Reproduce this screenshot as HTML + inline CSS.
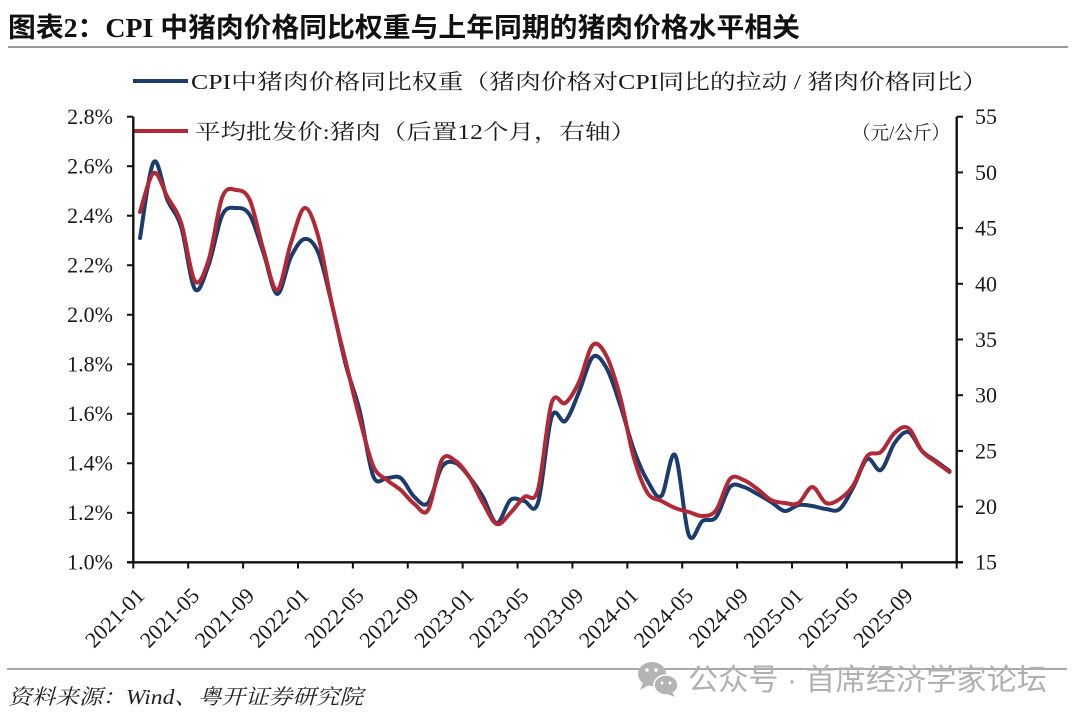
<!DOCTYPE html>
<html>
<head>
<meta charset="utf-8">
<style>
  html,body{margin:0;padding:0;background:#fff;}
  svg{display:block;}
  .ser{font-family:"Liberation Serif","Noto Serif CJK SC",serif;}
  .ttl{font-family:"Liberation Serif","Noto Sans CJK SC",sans-serif;font-weight:bold;}
  .wm{font-family:"Liberation Sans","Noto Sans CJK SC",sans-serif;}
</style>
</head>
<body>
<svg id="c" width="1080" height="717" viewBox="0 0 1080 717" xmlns="http://www.w3.org/2000/svg">
  <rect x="0" y="0" width="1080" height="717" fill="#ffffff"/>

  <!-- Title -->
  <text class="ttl" x="8" y="37" font-size="27" fill="#111" textLength="792" lengthAdjust="spacingAndGlyphs">图表2：CPI 中猪肉价格同比权重与上年同期的猪肉价格水平相关</text>
  <line x1="8" y1="47" x2="1068" y2="47" stroke="#9a9a9a" stroke-width="2"/>

  <!-- Legend -->
  <line x1="133" y1="81" x2="188" y2="81" stroke="#1c3c6e" stroke-width="4"/>
  <text class="ser" x="191" y="89" font-size="21" fill="#1a1a1a" textLength="797" lengthAdjust="spacingAndGlyphs">CPI中猪肉价格同比权重（猪肉价格对CPI同比的拉动 / 猪肉价格同比）</text>
  <line x1="133" y1="131" x2="188" y2="131" stroke="#b22834" stroke-width="4"/>
  <text class="ser" x="195" y="139" font-size="21" fill="#1a1a1a" textLength="441" lengthAdjust="spacingAndGlyphs">平均批发价:猪肉（后置12个月，右轴）</text>
  <text class="ser" x="852" y="139" font-size="19" fill="#1a1a1a" textLength="98" lengthAdjust="spacingAndGlyphs">（元/公斤）</text>

  <!-- Axes -->
  <g stroke="#111" stroke-width="2.4" fill="none">
    <line x1="133.3" y1="116.7" x2="133.3" y2="562.3"/>
    <line x1="956.7" y1="116.7" x2="956.7" y2="562.3"/>
    <line x1="127" y1="562.3" x2="963" y2="562.3"/>
  </g>
  <g id="ticks" stroke="#111" stroke-width="2"></g>

  <!-- Left labels -->
  <g class="ser" font-size="22" fill="#1a1a1a" text-anchor="end">
    <text x="113" y="124.2">2.8%</text>
    <text x="113" y="173.7">2.6%</text>
    <text x="113" y="223.2">2.4%</text>
    <text x="113" y="272.7">2.2%</text>
    <text x="113" y="322.2">2.0%</text>
    <text x="113" y="371.6">1.8%</text>
    <text x="113" y="421.1">1.6%</text>
    <text x="113" y="470.6">1.4%</text>
    <text x="113" y="520.1">1.2%</text>
    <text x="113" y="569.6">1.0%</text>
  </g>

  <!-- Right labels -->
  <g class="ser" font-size="22" fill="#1a1a1a" text-anchor="start">
    <text x="975" y="124.2">55</text>
    <text x="975" y="179.9">50</text>
    <text x="975" y="235.6">45</text>
    <text x="975" y="291.3">40</text>
    <text x="975" y="346.9">35</text>
    <text x="975" y="402.6">30</text>
    <text x="975" y="458.3">25</text>
    <text x="975" y="514.0">20</text>
    <text x="975" y="569.6">15</text>
  </g>

  <!-- X labels -->
  <g class="ser" font-size="22" fill="#1a1a1a" text-anchor="end">
    <text transform="translate(145.8,597) rotate(-45)">2021-01</text>
    <text transform="translate(200.7,597) rotate(-45)">2021-05</text>
    <text transform="translate(255.6,597) rotate(-45)">2021-09</text>
    <text transform="translate(310.4,597) rotate(-45)">2022-01</text>
    <text transform="translate(365.3,597) rotate(-45)">2022-05</text>
    <text transform="translate(420.2,597) rotate(-45)">2022-09</text>
    <text transform="translate(475.1,597) rotate(-45)">2023-01</text>
    <text transform="translate(530.0,597) rotate(-45)">2023-05</text>
    <text transform="translate(584.9,597) rotate(-45)">2023-09</text>
    <text transform="translate(639.7,597) rotate(-45)">2024-01</text>
    <text transform="translate(694.6,597) rotate(-45)">2024-05</text>
    <text transform="translate(749.5,597) rotate(-45)">2024-09</text>
    <text transform="translate(804.4,597) rotate(-45)">2025-01</text>
    <text transform="translate(859.3,597) rotate(-45)">2025-05</text>
    <text transform="translate(914.1,597) rotate(-45)">2025-09</text>
  </g>

  <!-- Series -->
  <path id="blue" d="" fill="none" stroke="#1c3c6e" stroke-width="4" stroke-linejoin="round" stroke-linecap="round"/>
  <path id="red" d="" fill="none" stroke="#b22834" stroke-width="4" stroke-linejoin="round" stroke-linecap="round"/>

  <!-- Bottom rule -->
  <line x1="7" y1="669" x2="1067" y2="669" stroke="#a8a8a8" stroke-width="2"/>

  <!-- Footer -->
  <text class="ser" x="8" y="704" font-size="21" font-style="italic" fill="#222" textLength="355" lengthAdjust="spacingAndGlyphs">资料来源：Wind、粤开证券研究院</text>

  <!-- Watermark -->
  <g fill="#b4b4b4">
    <ellipse cx="652" cy="674" rx="14" ry="12"/>
    <path d="M643 683 L640 690 L649 685 Z"/>
    <ellipse cx="666" cy="685" rx="12" ry="10" stroke="#fff" stroke-width="1.5"/>
    <path d="M672 692 L675 697 L667 694 Z"/>
    <circle cx="647" cy="670" r="1.8" fill="#fff"/>
    <circle cx="656" cy="670" r="1.8" fill="#fff"/>
    <circle cx="662" cy="683" r="1.5" fill="#fff"/>
    <circle cx="670" cy="683" r="1.5" fill="#fff"/>
  </g>
  <text class="wm" x="688" y="690" font-size="30" fill="#b0b0b0" textLength="359" lengthAdjust="spacingAndGlyphs">公众号 · 首席经济学家论坛</text>
</svg>
<script>
(function(){
  var blue=[238,162,200,227,289,265,215,208,215,253,
            294,257,239,253,305,365,410,476,478,478,
            497,503,467,463,477,497,523,500,501,503,
            417,421,392,357,368,405,450,481,496,455,
            535,521,517,487,487,494,502,511,505,506,
            509,509,487,459,470,443,432,451,461,471];
  var red=[212,173,197,223,281,260,197,190,200,250,
           290,243,208,237,305,362,418,466,480,490,
           504,510,460,461,477,503,524,513,497,490,
           403,403,382,345,356,397,458,493,501,508,
           512,516,510,479,480,489,500,503,503,487,
           503,499,485,456,452,433,428,451,462,472];
  function pts(arr){var p=[];for(var i=0;i<arr.length;i++){p.push([140+13.72*i,arr[i]]);}return p;}
  function smooth(p){
    var d="M"+p[0][0].toFixed(1)+","+p[0][1].toFixed(1);
    for(var i=0;i<p.length-1;i++){
      var p0=p[i-1]||p[i],p1=p[i],p2=p[i+1],p3=p[i+2]||p[i+1];
      var c1x=p1[0]+(p2[0]-p0[0])/6,c1y=p1[1]+(p2[1]-p0[1])/6;
      var c2x=p2[0]-(p3[0]-p1[0])/6,c2y=p2[1]-(p3[1]-p1[1])/6;
      d+=" C"+c1x.toFixed(1)+","+c1y.toFixed(1)+" "+c2x.toFixed(1)+","+c2y.toFixed(1)+" "+p2[0].toFixed(1)+","+p2[1].toFixed(1);
    }
    return d;
  }
  document.getElementById("blue").setAttribute("d",smooth(pts(blue)));
  document.getElementById("red").setAttribute("d",smooth(pts(red)));
  var g=document.getElementById("ticks"),ns="http://www.w3.org/2000/svg";
  function ln(x1,y1,x2,y2){var l=document.createElementNS(ns,"line");l.setAttribute("x1",x1);l.setAttribute("y1",y1);l.setAttribute("x2",x2);l.setAttribute("y2",y2);g.appendChild(l);}
  for(var k=0;k<10;k++){var y=116.7+k*(445.6/9);ln(127,y,133.3,y);}
  for(var k=0;k<9;k++){var y=116.7+k*(445.6/8);ln(956.7,y,963,y);}
  for(var k=0;k<=15;k++){var x=133.3+k*(823.4/15);ln(x,562.3,x,568.5);}
})();
</script>
</body>
</html>
